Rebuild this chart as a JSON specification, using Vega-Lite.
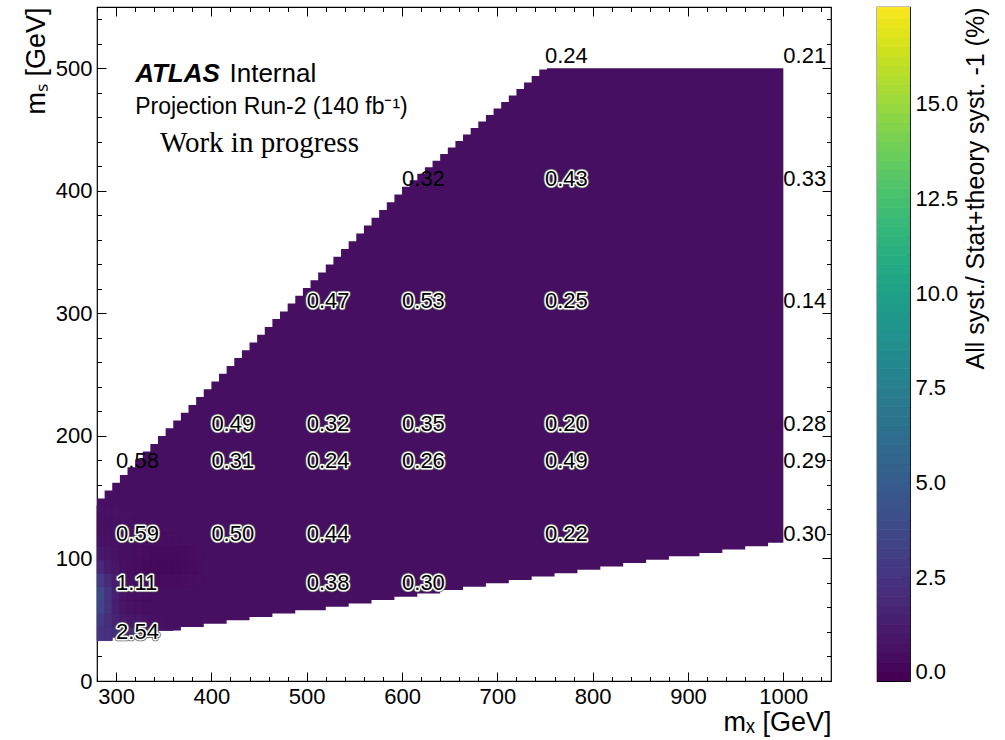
{
  "$schema": "https://vega.github.io/schema/vega-lite/v6.json",
  "background": "white",
  "padding": {"left": 21, "top": 5, "right": 5, "bottom": 5},
  "config": {
    "font": "Liberation Sans",
    "view": {"stroke": "black", "strokeWidth": 1.2},
    "axis": {"grid": false, "domain": false, "tickColor": "black", "labelColor": "black", "titleColor": "black", "labelFont": "Liberation Sans", "titleFont": "Liberation Sans", "labelFontSize": 22, "titleFontSize": 27, "titleFontWeight": "normal", "labelFlush": false, "labelOverlap": false, "tickWidth": 1}
  },
  "datasets": {
    "region": [
      {"mx": 280, "lo": 33, "hi": 149, "v": 0.4}, {"mx": 288, "lo": 33, "hi": 155.4, "v": 0.4}, {"mx": 296, "lo": 35.75, "hi": 161.7, "v": 0.4}, {"mx": 304, "lo": 35.75, "hi": 168.1, "v": 0.4}, {"mx": 312, "lo": 35.75, "hi": 174.4, "v": 0.4}, {"mx": 320, "lo": 38.5, "hi": 180.8, "v": 0.4}, {"mx": 328, "lo": 38.5, "hi": 187.2, "v": 0.4}, {"mx": 336, "lo": 38.5, "hi": 193.5, "v": 0.4}, {"mx": 344, "lo": 41.25, "hi": 199.9, "v": 0.4}, {"mx": 352, "lo": 41.25, "hi": 206.2, "v": 0.4},
      {"mx": 360, "lo": 41.25, "hi": 212.6, "v": 0.4}, {"mx": 368, "lo": 44, "hi": 219, "v": 0.4}, {"mx": 376, "lo": 44, "hi": 225.3, "v": 0.4}, {"mx": 384, "lo": 44, "hi": 231.7, "v": 0.4}, {"mx": 392, "lo": 46.75, "hi": 238, "v": 0.4}, {"mx": 400, "lo": 46.75, "hi": 244.4, "v": 0.4}, {"mx": 408, "lo": 46.75, "hi": 250.8, "v": 0.4}, {"mx": 416, "lo": 49.5, "hi": 257.1, "v": 0.4}, {"mx": 424, "lo": 49.5, "hi": 263.5, "v": 0.4}, {"mx": 432, "lo": 49.5, "hi": 269.8, "v": 0.4},
      {"mx": 440, "lo": 52.25, "hi": 276.2, "v": 0.4}, {"mx": 448, "lo": 52.25, "hi": 282.6, "v": 0.4}, {"mx": 456, "lo": 52.25, "hi": 288.9, "v": 0.4}, {"mx": 464, "lo": 55, "hi": 295.3, "v": 0.4}, {"mx": 472, "lo": 55, "hi": 301.6, "v": 0.4}, {"mx": 480, "lo": 55, "hi": 308, "v": 0.4}, {"mx": 488, "lo": 57.75, "hi": 314.4, "v": 0.4}, {"mx": 496, "lo": 57.75, "hi": 320.7, "v": 0.4}, {"mx": 504, "lo": 57.75, "hi": 327.1, "v": 0.4}, {"mx": 512, "lo": 57.75, "hi": 333.4, "v": 0.4},
      {"mx": 520, "lo": 60.5, "hi": 339.8, "v": 0.4}, {"mx": 528, "lo": 60.5, "hi": 346.2, "v": 0.4}, {"mx": 536, "lo": 60.5, "hi": 352.5, "v": 0.4}, {"mx": 544, "lo": 63.25, "hi": 358.9, "v": 0.4}, {"mx": 552, "lo": 63.25, "hi": 365.2, "v": 0.4}, {"mx": 560, "lo": 63.25, "hi": 371.6, "v": 0.4}, {"mx": 568, "lo": 66, "hi": 378, "v": 0.4}, {"mx": 576, "lo": 66, "hi": 384.3, "v": 0.4}, {"mx": 584, "lo": 66, "hi": 390.7, "v": 0.4}, {"mx": 592, "lo": 68.75, "hi": 397, "v": 0.4},
      {"mx": 600, "lo": 68.75, "hi": 403.4, "v": 0.4}, {"mx": 608, "lo": 68.75, "hi": 408.7, "v": 0.4}, {"mx": 616, "lo": 71.5, "hi": 414, "v": 0.4}, {"mx": 624, "lo": 71.5, "hi": 419.3, "v": 0.4}, {"mx": 632, "lo": 71.5, "hi": 424.6, "v": 0.4}, {"mx": 640, "lo": 74.25, "hi": 430, "v": 0.4}, {"mx": 648, "lo": 74.25, "hi": 435.3, "v": 0.4}, {"mx": 656, "lo": 74.25, "hi": 440.6, "v": 0.4}, {"mx": 664, "lo": 77, "hi": 445.9, "v": 0.4}, {"mx": 672, "lo": 77, "hi": 451.2, "v": 0.4},
      {"mx": 680, "lo": 77, "hi": 456.5, "v": 0.4}, {"mx": 688, "lo": 79.75, "hi": 461.8, "v": 0.4}, {"mx": 696, "lo": 79.75, "hi": 467.1, "v": 0.4}, {"mx": 704, "lo": 79.75, "hi": 472.5, "v": 0.4}, {"mx": 712, "lo": 82.5, "hi": 477.8, "v": 0.4}, {"mx": 720, "lo": 82.5, "hi": 483.1, "v": 0.4}, {"mx": 728, "lo": 82.5, "hi": 488.4, "v": 0.4}, {"mx": 736, "lo": 85.25, "hi": 493.7, "v": 0.4}, {"mx": 744, "lo": 85.25, "hi": 499, "v": 0.4}, {"mx": 752, "lo": 85.25, "hi": 500, "v": 0.4},
      {"mx": 760, "lo": 88, "hi": 500, "v": 0.4}, {"mx": 768, "lo": 88, "hi": 500, "v": 0.4}, {"mx": 776, "lo": 88, "hi": 500, "v": 0.4}, {"mx": 784, "lo": 90.75, "hi": 500, "v": 0.4}, {"mx": 792, "lo": 90.75, "hi": 500, "v": 0.4}, {"mx": 800, "lo": 90.75, "hi": 500, "v": 0.4}, {"mx": 808, "lo": 93.5, "hi": 500, "v": 0.4}, {"mx": 816, "lo": 93.5, "hi": 500, "v": 0.4}, {"mx": 824, "lo": 93.5, "hi": 500, "v": 0.4}, {"mx": 832, "lo": 96.25, "hi": 500, "v": 0.4},
      {"mx": 840, "lo": 96.25, "hi": 500, "v": 0.4}, {"mx": 848, "lo": 96.25, "hi": 500, "v": 0.4}, {"mx": 856, "lo": 99, "hi": 500, "v": 0.4}, {"mx": 864, "lo": 99, "hi": 500, "v": 0.4}, {"mx": 872, "lo": 99, "hi": 500, "v": 0.4}, {"mx": 880, "lo": 101.75, "hi": 500, "v": 0.4}, {"mx": 888, "lo": 101.75, "hi": 500, "v": 0.4}, {"mx": 896, "lo": 101.75, "hi": 500, "v": 0.4}, {"mx": 904, "lo": 101.75, "hi": 500, "v": 0.4}, {"mx": 912, "lo": 104.5, "hi": 500, "v": 0.4},
      {"mx": 920, "lo": 104.5, "hi": 500, "v": 0.4}, {"mx": 928, "lo": 104.5, "hi": 500, "v": 0.4}, {"mx": 936, "lo": 107.25, "hi": 500, "v": 0.4}, {"mx": 944, "lo": 107.25, "hi": 500, "v": 0.4}, {"mx": 952, "lo": 107.25, "hi": 500, "v": 0.4}, {"mx": 960, "lo": 110, "hi": 500, "v": 0.4}, {"mx": 968, "lo": 110, "hi": 500, "v": 0.4}, {"mx": 976, "lo": 110, "hi": 500, "v": 0.4}, {"mx": 984, "lo": 112.75, "hi": 500, "v": 0.4}, {"mx": 992, "lo": 112.75, "hi": 500, "v": 0.4},
      {"mx": 1000, "lo": 112.75, "hi": 500, "v": 0.4}
    ],
    "cells": [
      {"xa": 280, "xb": 288, "ya": 33, "yb": 44, "v": 2.3}, {"xa": 280, "xb": 288, "ya": 44, "yb": 55, "v": 2.7}, {"xa": 280, "xb": 288, "ya": 55, "yb": 66, "v": 3.4}, {"xa": 280, "xb": 288, "ya": 66, "yb": 77, "v": 3.6}, {"xa": 280, "xb": 288, "ya": 77, "yb": 88, "v": 2.8}, {"xa": 280, "xb": 288, "ya": 88, "yb": 99, "v": 1.7}, {"xa": 280, "xb": 288, "ya": 99, "yb": 110, "v": 0.9}, {"xa": 280, "xb": 288, "ya": 110, "yb": 121, "v": 0.6}, {"xa": 280, "xb": 288, "ya": 121, "yb": 132, "v": 0.5}, {"xa": 280, "xb": 288, "ya": 132, "yb": 143, "v": 0.5},
      {"xa": 288, "xb": 296, "ya": 33, "yb": 44, "v": 2.2}, {"xa": 288, "xb": 296, "ya": 44, "yb": 55, "v": 2.0}, {"xa": 288, "xb": 296, "ya": 55, "yb": 66, "v": 2.3}, {"xa": 288, "xb": 296, "ya": 66, "yb": 77, "v": 2.4}, {"xa": 288, "xb": 296, "ya": 77, "yb": 88, "v": 1.9}, {"xa": 288, "xb": 296, "ya": 88, "yb": 99, "v": 1.1}, {"xa": 288, "xb": 296, "ya": 99, "yb": 110, "v": 0.65}, {"xa": 288, "xb": 296, "ya": 110, "yb": 121, "v": 0.5}, {"xa": 288, "xb": 296, "ya": 121, "yb": 132, "v": 0.48}, {"xa": 288, "xb": 296, "ya": 132, "yb": 143, "v": 0.45},
      {"xa": 296, "xb": 304, "ya": 35.75, "yb": 44, "v": 2.1}, {"xa": 296, "xb": 304, "ya": 44, "yb": 55, "v": 1.4}, {"xa": 296, "xb": 304, "ya": 55, "yb": 66, "v": 1.2}, {"xa": 296, "xb": 304, "ya": 66, "yb": 77, "v": 1.2}, {"xa": 296, "xb": 304, "ya": 77, "yb": 88, "v": 1.0}, {"xa": 296, "xb": 304, "ya": 88, "yb": 99, "v": 0.7}, {"xa": 296, "xb": 304, "ya": 99, "yb": 110, "v": 0.5}, {"xa": 296, "xb": 304, "ya": 110, "yb": 121, "v": 0.5}, {"xa": 296, "xb": 304, "ya": 121, "yb": 132, "v": 0.52}, {"xa": 296, "xb": 304, "ya": 132, "yb": 143, "v": 0.5},
      {"xa": 304, "xb": 312, "ya": 35.75, "yb": 44, "v": 1.9}, {"xa": 304, "xb": 312, "ya": 44, "yb": 55, "v": 1.0}, {"xa": 304, "xb": 312, "ya": 55, "yb": 66, "v": 0.7}, {"xa": 304, "xb": 312, "ya": 66, "yb": 77, "v": 0.65}, {"xa": 304, "xb": 312, "ya": 77, "yb": 88, "v": 0.55}, {"xa": 304, "xb": 312, "ya": 88, "yb": 99, "v": 0.45}, {"xa": 304, "xb": 312, "ya": 99, "yb": 110, "v": 0.42}, {"xa": 304, "xb": 312, "ya": 110, "yb": 121, "v": 0.48}, {"xa": 304, "xb": 312, "ya": 121, "yb": 132, "v": 0.5}, {"xa": 304, "xb": 312, "ya": 132, "yb": 143, "v": 0.48},
      {"xa": 312, "xb": 320, "ya": 35.75, "yb": 44, "v": 1.7}, {"xa": 312, "xb": 320, "ya": 44, "yb": 55, "v": 0.85}, {"xa": 312, "xb": 320, "ya": 55, "yb": 66, "v": 0.5}, {"xa": 312, "xb": 320, "ya": 66, "yb": 77, "v": 0.45}, {"xa": 312, "xb": 320, "ya": 77, "yb": 88, "v": 0.4}, {"xa": 312, "xb": 320, "ya": 88, "yb": 99, "v": 0.36}, {"xa": 312, "xb": 320, "ya": 99, "yb": 110, "v": 0.38}, {"xa": 312, "xb": 320, "ya": 110, "yb": 121, "v": 0.44}, {"xa": 312, "xb": 320, "ya": 121, "yb": 132, "v": 0.45}, {"xa": 312, "xb": 320, "ya": 132, "yb": 143, "v": 0.45},
      {"xa": 320, "xb": 328, "ya": 38.5, "yb": 44, "v": 1.45}, {"xa": 320, "xb": 328, "ya": 44, "yb": 55, "v": 0.72}, {"xa": 320, "xb": 328, "ya": 55, "yb": 66, "v": 0.45}, {"xa": 320, "xb": 328, "ya": 66, "yb": 77, "v": 0.4}, {"xa": 320, "xb": 328, "ya": 77, "yb": 88, "v": 0.32}, {"xa": 320, "xb": 328, "ya": 88, "yb": 99, "v": 0.26}, {"xa": 320, "xb": 328, "ya": 99, "yb": 110, "v": 0.3}, {"xa": 320, "xb": 328, "ya": 110, "yb": 121, "v": 0.38},
      {"xa": 328, "xb": 336, "ya": 38.5, "yb": 44, "v": 1.15}, {"xa": 328, "xb": 336, "ya": 44, "yb": 55, "v": 0.62}, {"xa": 328, "xb": 336, "ya": 55, "yb": 66, "v": 0.42}, {"xa": 328, "xb": 336, "ya": 66, "yb": 77, "v": 0.36}, {"xa": 328, "xb": 336, "ya": 77, "yb": 88, "v": 0.26}, {"xa": 328, "xb": 336, "ya": 88, "yb": 99, "v": 0.18}, {"xa": 328, "xb": 336, "ya": 99, "yb": 110, "v": 0.24}, {"xa": 328, "xb": 336, "ya": 110, "yb": 121, "v": 0.36},
      {"xa": 336, "xb": 344, "ya": 38.5, "yb": 44, "v": 0.9}, {"xa": 336, "xb": 344, "ya": 44, "yb": 55, "v": 0.55}, {"xa": 336, "xb": 344, "ya": 66, "yb": 77, "v": 0.35}, {"xa": 336, "xb": 344, "ya": 77, "yb": 88, "v": 0.22}, {"xa": 336, "xb": 344, "ya": 88, "yb": 99, "v": 0.1}, {"xa": 336, "xb": 344, "ya": 99, "yb": 110, "v": 0.18}, {"xa": 336, "xb": 344, "ya": 110, "yb": 121, "v": 0.34},
      {"xa": 344, "xb": 352, "ya": 41.25, "yb": 44, "v": 0.67}, {"xa": 344, "xb": 352, "ya": 44, "yb": 55, "v": 0.48}, {"xa": 344, "xb": 352, "ya": 77, "yb": 88, "v": 0.2}, {"xa": 344, "xb": 352, "ya": 88, "yb": 99, "v": 0.05}, {"xa": 344, "xb": 352, "ya": 99, "yb": 110, "v": 0.15}, {"xa": 344, "xb": 352, "ya": 110, "yb": 121, "v": 0.33},
      {"xa": 352, "xb": 360, "ya": 41.25, "yb": 44, "v": 0.54}, {"xa": 352, "xb": 360, "ya": 77, "yb": 88, "v": 0.2}, {"xa": 352, "xb": 360, "ya": 88, "yb": 99, "v": 0.05}, {"xa": 352, "xb": 360, "ya": 99, "yb": 110, "v": 0.15}, {"xa": 352, "xb": 360, "ya": 110, "yb": 121, "v": 0.33},
      {"xa": 360, "xb": 368, "ya": 77, "yb": 88, "v": 0.23}, {"xa": 360, "xb": 368, "ya": 88, "yb": 99, "v": 0.09}, {"xa": 360, "xb": 368, "ya": 99, "yb": 110, "v": 0.18}, {"xa": 360, "xb": 368, "ya": 110, "yb": 121, "v": 0.34},
      {"xa": 368, "xb": 376, "ya": 77, "yb": 88, "v": 0.28}, {"xa": 368, "xb": 376, "ya": 88, "yb": 99, "v": 0.16}, {"xa": 368, "xb": 376, "ya": 99, "yb": 110, "v": 0.23},
      {"xa": 376, "xb": 384, "ya": 77, "yb": 88, "v": 0.32}, {"xa": 376, "xb": 384, "ya": 88, "yb": 99, "v": 0.23}, {"xa": 376, "xb": 384, "ya": 99, "yb": 110, "v": 0.28},
      {"xa": 384, "xb": 392, "ya": 77, "yb": 88, "v": 0.36}, {"xa": 384, "xb": 392, "ya": 88, "yb": 99, "v": 0.3}, {"xa": 384, "xb": 392, "ya": 99, "yb": 110, "v": 0.34}
    ],
    "labels": [
      {"mx": 300, "ms": 30, "t": "2.54", "o": 1}, {"mx": 300, "ms": 70, "t": "1.11", "o": 1}, {"mx": 300, "ms": 110, "t": "0.59", "o": 1}, {"mx": 300, "ms": 170, "t": "0.58", "o": 0},
      {"mx": 400, "ms": 110, "t": "0.50", "o": 1}, {"mx": 400, "ms": 170, "t": "0.31", "o": 1}, {"mx": 400, "ms": 200, "t": "0.49", "o": 1},
      {"mx": 500, "ms": 70, "t": "0.38", "o": 1}, {"mx": 500, "ms": 110, "t": "0.44", "o": 1}, {"mx": 500, "ms": 170, "t": "0.24", "o": 1}, {"mx": 500, "ms": 200, "t": "0.32", "o": 1}, {"mx": 500, "ms": 300, "t": "0.47", "o": 1},
      {"mx": 600, "ms": 70, "t": "0.30", "o": 1}, {"mx": 600, "ms": 170, "t": "0.26", "o": 1}, {"mx": 600, "ms": 200, "t": "0.35", "o": 1}, {"mx": 600, "ms": 300, "t": "0.53", "o": 1}, {"mx": 600, "ms": 400, "t": "0.32", "o": 0},
      {"mx": 750, "ms": 110, "t": "0.22", "o": 1}, {"mx": 750, "ms": 170, "t": "0.49", "o": 1}, {"mx": 750, "ms": 200, "t": "0.20", "o": 1}, {"mx": 750, "ms": 300, "t": "0.25", "o": 1}, {"mx": 750, "ms": 400, "t": "0.43", "o": 1}, {"mx": 750, "ms": 500, "t": "0.24", "o": 0},
      {"mx": 1000, "ms": 110, "t": "0.30", "o": 0}, {"mx": 1000, "ms": 170, "t": "0.29", "o": 0}, {"mx": 1000, "ms": 200, "t": "0.28", "o": 0}, {"mx": 1000, "ms": 300, "t": "0.14", "o": 0}, {"mx": 1000, "ms": 400, "t": "0.33", "o": 0}, {"mx": 1000, "ms": 500, "t": "0.21", "o": 0}
    ],
    "cbar": [
      {"lo": -0.24, "hi": 0}, {"lo": 0, "hi": 0.25}, {"lo": 0.25, "hi": 0.5}, {"lo": 0.5, "hi": 0.75}, {"lo": 0.75, "hi": 1}, {"lo": 1, "hi": 1.25}, {"lo": 1.25, "hi": 1.5}, {"lo": 1.5, "hi": 1.75}, {"lo": 1.75, "hi": 2}, {"lo": 2, "hi": 2.25}, {"lo": 2.25, "hi": 2.5}, {"lo": 2.5, "hi": 2.75}, {"lo": 2.75, "hi": 3}, {"lo": 3, "hi": 3.25}, {"lo": 3.25, "hi": 3.5}, {"lo": 3.5, "hi": 3.75}, {"lo": 3.75, "hi": 4}, {"lo": 4, "hi": 4.25},
      {"lo": 4.25, "hi": 4.5}, {"lo": 4.5, "hi": 4.75}, {"lo": 4.75, "hi": 5}, {"lo": 5, "hi": 5.25}, {"lo": 5.25, "hi": 5.5}, {"lo": 5.5, "hi": 5.75}, {"lo": 5.75, "hi": 6}, {"lo": 6, "hi": 6.25}, {"lo": 6.25, "hi": 6.5}, {"lo": 6.5, "hi": 6.75}, {"lo": 6.75, "hi": 7}, {"lo": 7, "hi": 7.25}, {"lo": 7.25, "hi": 7.5}, {"lo": 7.5, "hi": 7.75}, {"lo": 7.75, "hi": 8}, {"lo": 8, "hi": 8.25}, {"lo": 8.25, "hi": 8.5}, {"lo": 8.5, "hi": 8.75},
      {"lo": 8.75, "hi": 9}, {"lo": 9, "hi": 9.25}, {"lo": 9.25, "hi": 9.5}, {"lo": 9.5, "hi": 9.75}, {"lo": 9.75, "hi": 10}, {"lo": 10, "hi": 10.25}, {"lo": 10.25, "hi": 10.5}, {"lo": 10.5, "hi": 10.75}, {"lo": 10.75, "hi": 11}, {"lo": 11, "hi": 11.25}, {"lo": 11.25, "hi": 11.5}, {"lo": 11.5, "hi": 11.75}, {"lo": 11.75, "hi": 12}, {"lo": 12, "hi": 12.25}, {"lo": 12.25, "hi": 12.5}, {"lo": 12.5, "hi": 12.75}, {"lo": 12.75, "hi": 13}, {"lo": 13, "hi": 13.25},
      {"lo": 13.25, "hi": 13.5}, {"lo": 13.5, "hi": 13.75}, {"lo": 13.75, "hi": 14}, {"lo": 14, "hi": 14.25}, {"lo": 14.25, "hi": 14.5}, {"lo": 14.5, "hi": 14.75}, {"lo": 14.75, "hi": 15}, {"lo": 15, "hi": 15.25}, {"lo": 15.25, "hi": 15.5}, {"lo": 15.5, "hi": 15.75}, {"lo": 15.75, "hi": 16}, {"lo": 16, "hi": 16.25}, {"lo": 16.25, "hi": 16.5}, {"lo": 16.5, "hi": 16.75}, {"lo": 16.75, "hi": 17}, {"lo": 17, "hi": 17.25}, {"lo": 17.25, "hi": 17.5}, {"lo": 17.5, "hi": 17.55}
    ]
  },
  "spacing": 43,
  "hconcat": [
    {
      "width": 734,
      "height": 674,
      "layer": [
        {
          "data": {"name": "region"},
          "mark": {"type": "area", "interpolate": "step-after"},
          "encoding": {
            "x": {"field": "mx", "type": "quantitative", "scale": {"domain": [280, 1050], "nice": false, "zero": false},
                  "axis": {"orient": "bottom", "values": [300, 400, 500, 600, 700, 800, 900, 1000], "format": "d", "tickSize": -9, "labelPadding": 14, "title": "mₓ [GeV]", "titleAnchor": "end", "titlePadding": 2}},
            "y": {"field": "lo", "type": "quantitative", "scale": {"domain": [0, 550], "nice": false, "zero": false},
                  "axis": {"orient": "left", "values": [0, 100, 200, 300, 400, 500], "format": "d", "tickSize": -9, "labelPadding": 14, "title": "mₛ [GeV]", "titleAnchor": "end", "titlePadding": 5}},
            "y2": {"field": "hi"},
            "color": {"field": "v", "type": "quantitative", "scale": {"scheme": "viridis", "domain": [-0.24, 17.55], "clamp": true}, "legend": null}
          }
        },
        {
          "data": {"name": "cells"},
          "mark": {"type": "rect", "strokeWidth": 0.8},
          "encoding": {
            "x": {"field": "xa", "type": "quantitative",
                  "axis": {"orient": "bottom", "values": [280, 300, 320, 340, 360, 380, 400, 420, 440, 460, 480, 500, 520, 540, 560, 580, 600, 620, 640, 660, 680, 700, 720, 740, 760, 780, 800, 820, 840, 860, 880, 900, 920, 940, 960, 980, 1000, 1020, 1040], "tickSize": -4.5, "labels": false, "title": null}},
            "x2": {"field": "xb"},
            "y": {"field": "ya", "type": "quantitative",
                  "axis": {"orient": "left", "values": [20, 40, 60, 80, 100, 120, 140, 160, 180, 200, 220, 240, 260, 280, 300, 320, 340, 360, 380, 400, 420, 440, 460, 480, 500, 520, 540], "tickSize": -4.5, "labels": false, "title": null}},
            "y2": {"field": "yb"},
            "color": {"field": "v", "type": "quantitative", "scale": {"scheme": "viridis", "domain": [-0.24, 17.55], "clamp": true}, "legend": null},
            "stroke": {"field": "v", "type": "quantitative", "scale": {"scheme": "viridis", "domain": [-0.24, 17.55], "clamp": true}, "legend": null}
          }
        },
        {
          "data": {"name": "labels"},
          "transform": [{"filter": "datum.o == 1"}],
          "mark": {"type": "text", "align": "left", "baseline": "bottom", "fontSize": 22, "fill": "#555555", "stroke": "#555555", "strokeWidth": 4.5, "strokeJoin": "round"},
          "encoding": {
            "x": {"field": "mx", "type": "quantitative",
                  "axis": {"orient": "top", "values": [300, 400, 500, 600, 700, 800, 900, 1000], "tickSize": -9, "labels": false, "title": null}},
            "y": {"field": "ms", "type": "quantitative",
                  "axis": {"orient": "right", "values": [0, 100, 200, 300, 400, 500], "tickSize": -9, "labels": false, "title": null}},
            "text": {"field": "t"}
          }
        },
        {
          "data": {"name": "labels"},
          "transform": [{"filter": "datum.o == 1"}],
          "mark": {"type": "text", "align": "left", "baseline": "bottom", "fontSize": 22, "fill": "white", "stroke": "white", "strokeWidth": 3, "strokeJoin": "round"},
          "encoding": {
            "x": {"field": "mx", "type": "quantitative",
                  "axis": {"orient": "top", "values": [280, 300, 320, 340, 360, 380, 400, 420, 440, 460, 480, 500, 520, 540, 560, 580, 600, 620, 640, 660, 680, 700, 720, 740, 760, 780, 800, 820, 840, 860, 880, 900, 920, 940, 960, 980, 1000, 1020, 1040], "tickSize": -4.5, "labels": false, "title": null}},
            "y": {"field": "ms", "type": "quantitative",
                  "axis": {"orient": "right", "values": [20, 40, 60, 80, 100, 120, 140, 160, 180, 200, 220, 240, 260, 280, 300, 320, 340, 360, 380, 400, 420, 440, 460, 480, 500, 520, 540], "tickSize": -4.5, "labels": false, "title": null}},
            "text": {"field": "t"}
          }
        },
        {
          "data": {"name": "labels"},
          "mark": {"type": "text", "align": "left", "baseline": "bottom", "fontSize": 22, "fill": "black"},
          "encoding": {
            "x": {"field": "mx", "type": "quantitative", "axis": null},
            "y": {"field": "ms", "type": "quantitative", "axis": null},
            "text": {"field": "t"}
          }
        },
        {
          "data": {"values": [{}]},
          "mark": {"type": "text", "text": "ATLAS", "align": "left", "baseline": "alphabetic", "fontSize": 26, "fontWeight": "bold", "fontStyle": "italic", "fill": "black"},
          "encoding": {"x": {"datum": 320, "type": "quantitative", "axis": null}, "y": {"datum": 489, "type": "quantitative", "axis": null}}
        },
        {
          "data": {"values": [{}]},
          "mark": {"type": "text", "text": "Internal", "align": "left", "baseline": "alphabetic", "fontSize": 26, "fill": "black"},
          "encoding": {"x": {"datum": 419, "type": "quantitative", "axis": null}, "y": {"datum": 489, "type": "quantitative", "axis": null}}
        },
        {
          "data": {"values": [{}]},
          "mark": {"type": "text", "text": "Projection Run-2 (140 fb⁻¹)", "align": "left", "baseline": "alphabetic", "fontSize": 23, "fill": "black"},
          "encoding": {"x": {"datum": 320, "type": "quantitative", "axis": null}, "y": {"datum": 463, "type": "quantitative", "axis": null}}
        },
        {
          "data": {"values": [{}]},
          "mark": {"type": "text", "text": "Work in progress", "align": "left", "baseline": "alphabetic", "fontSize": 29, "font": "Liberation Serif", "fill": "black"},
          "encoding": {"x": {"datum": 346, "type": "quantitative", "axis": null}, "y": {"datum": 432, "type": "quantitative", "axis": null}}
        }
      ],
      "resolve": {"axis": {"x": "independent", "y": "independent"}}
    },
    {
      "width": 33,
      "height": 674,
      "data": {"name": "cbar"},
      "layer": [
        {
          "mark": {"type": "rect", "clip": true, "strokeWidth": 0.8},
          "encoding": {
            "y": {"field": "lo", "type": "quantitative", "scale": {"domain": [-0.24, 17.55], "nice": false, "zero": false},
                  "axis": {"orient": "right", "values": [0, 2.5, 5, 7.5, 10, 12.5, 15], "format": ".1f", "tickSize": -8, "labelPadding": 13,
                           "title": "All syst./ Stat+theory syst. -1 (%)", "titleFontSize": 25, "titleAngle": 270, "titleAnchor": "end", "titleAlign": "right", "titleBaseline": "top", "titlePadding": 6}},
            "y2": {"field": "hi"},
            "x": {"datum": 0, "type": "quantitative", "scale": {"domain": [0, 1], "nice": false, "zero": false}, "axis": null},
            "x2": {"datum": 1},
            "color": {"field": "lo", "type": "quantitative", "scale": {"scheme": "viridis", "domain": [-0.24, 17.55], "clamp": true}, "legend": null},
            "stroke": {"field": "lo", "type": "quantitative", "scale": {"scheme": "viridis", "domain": [-0.24, 17.55], "clamp": true}, "legend": null}
          }
        },
        {
          "mark": {"type": "rect", "opacity": 0},
          "encoding": {
            "y": {"field": "lo", "type": "quantitative",
                  "axis": {"orient": "right", "values": [0.5, 1, 1.5, 2, 3, 3.5, 4, 4.5, 5.5, 6, 6.5, 7, 8, 8.5, 9, 9.5, 10.5, 11, 11.5, 12, 13, 13.5, 14, 14.5, 15.5, 16, 16.5, 17], "tickSize": -4, "labels": false, "title": null}},
            "y2": {"field": "hi"},
            "x": {"datum": 0, "type": "quantitative", "axis": null},
            "x2": {"datum": 1}
          }
        }
      ],
      "resolve": {"axis": {"y": "independent"}}
    }
  ]
}
